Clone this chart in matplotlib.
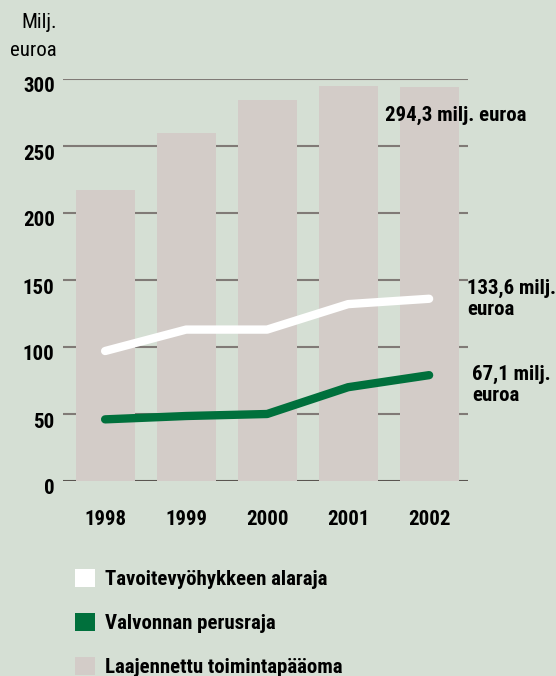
import matplotlib
matplotlib.use("Agg")
import matplotlib.pyplot as plt
from matplotlib.patches import Patch
from matplotlib.transforms import ScaledTranslation

years = ["1998", "1999", "2000", "2001", "2002"]
capital = [217, 260, 284, 295, 294.3]          # Laajennettu toimintapääoma
target_lower = [97, 113, 113, 132, 136]         # Tavoitevyöhykkeen alaraja
supervision = [46, 48.5, 50, 70, 79]            # Valvonnan perusraja
yticks = [0, 50, 100, 150, 200, 250, 300]
legend_labels = ["Tavoitevyöhykkeen alaraja", "Valvonnan perusraja", "Laajennettu toimintapääoma"]

BG = "#d5dfd4"
BAR = "#d3ccc8"
GREEN = "#00703c"
GRID = "#807a76"
FONT = ["Roboto Condensed", "DejaVu Sans"]
plt.rcParams["font.family"] = FONT
FS = 15

fig = plt.figure(figsize=(5.56, 6.76), dpi=100, facecolor=BG)
ax = fig.add_axes([63/556, 1-481/676, 405/556, (481-79)/676])
ax.set_facecolor(BG)
x = list(range(len(years)))

ax.bar(x, capital, width=0.73, color=BAR, zorder=2)
ax.plot(x, target_lower, color="white", lw=6, solid_capstyle="round", solid_joinstyle="round", zorder=3)
ax.plot(x, supervision, color=GREEN, lw=6, solid_capstyle="round", solid_joinstyle="round", zorder=3)

for v in yticks:
    ax.axhline(v, color=GRID if v else "#5a5550", lw=1.5, zorder=1)

ax.set_xlim(-0.52, 4.48)
ax.set_ylim(0, 300)
ax.set_yticks(yticks)
ax.set_xticks(x)
ax.set_xticklabels(years)
ax.tick_params(length=0, labelsize=FS)
ax.tick_params(axis="y", pad=6)
ax.tick_params(axis="x", pad=21)
for lab in ax.get_yticklabels() + ax.get_xticklabels():
    lab.set_fontweight("bold")
for lab in ax.get_yticklabels():
    lab.set_transform(lab.get_transform() + ScaledTranslation(0, -6/100, fig.dpi_scale_trans))
for s in ax.spines.values():
    s.set_visible(False)

fig.text(57/556, 1-23/676, "Milj.", ha="right", va="center", fontsize=FS)
fig.text(57/556, 1-50/676, "euroa", ha="right", va="center", fontsize=FS)

fig.text(385/556, 1-115/676, "294,3 milj. euroa", ha="left", va="center", fontsize=FS, fontweight="bold")
fig.text(467/556, 1-299/676, "133,6 milj.\neuroa", ha="left", va="center", fontsize=FS, fontweight="bold", linespacing=1.12)
fig.text(472/556, 1-385/676, "67,1 milj.\neuroa", ha="left", va="center", fontsize=FS, fontweight="bold", linespacing=1.12)

handles = [Patch(facecolor="white"), Patch(facecolor=GREEN), Patch(facecolor=BAR)]
leg = fig.legend(handles, legend_labels, loc="upper left", bbox_to_anchor=(75/556, 1-569/676),
                 frameon=False, fontsize=FS, handlelength=0.96, handleheight=0.96,
                 handletextpad=0.5, labelspacing=1.13, borderpad=0, borderaxespad=0)
for t in leg.get_texts():
    t.set_fontweight("bold")

fig.savefig("out.png", dpi=100, facecolor=BG)
